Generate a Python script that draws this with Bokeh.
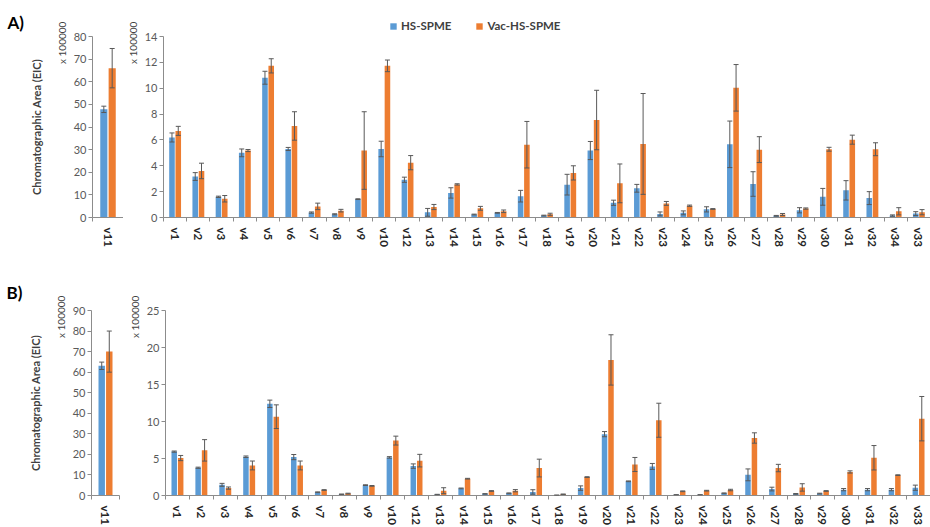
import math
from bokeh.plotting import figure
from bokeh.models import (ColumnDataSource, Range1d, FixedTicker, Whisker, TeeHead,
                          Legend, LegendItem, LinearAxis, Title)
from bokeh.layouts import row, column
from bokeh.embed import file_html
from bokeh.resources import INLINE

# ---------------- data ----------------
A_cats = ["v1", "v2", "v3", "v4", "v5", "v6", "v7", "v8", "v9", "v10", "v12", "v13", "v14", "v15",
          "v16", "v17", "v18", "v19", "v20", "v21", "v22", "v23", "v24", "v25", "v26", "v27", "v28",
          "v29", "v30", "v31", "v32", "v34", "v33"]
A_hs = [6.19, 3.17, 1.6, 5.0, 10.81, 5.3, 0.38, 0.25, 1.42, 5.3, 2.92, 0.4, 1.9, 0.23, 0.36, 1.65,
        0.15, 2.54, 5.18, 1.14, 2.26, 0.28, 0.36, 0.63, 5.66, 2.59, 0.13, 0.56, 1.6, 2.1, 1.5, 0.15, 0.3]
A_hs_sd = [0.35, 0.3, 0.05, 0.3, 0.5, 0.12, 0.05, 0.04, 0.03, 0.6, 0.2, 0.3, 0.4, 0.03, 0.03, 0.45,
           0.03, 0.8, 0.7, 0.2, 0.3, 0.15, 0.15, 0.2, 1.8, 0.95, 0.03, 0.2, 0.65, 0.75, 0.5, 0.05, 0.15]
A_vac = [6.7, 3.6, 1.45, 5.18, 11.73, 7.08, 0.86, 0.53, 5.18, 11.73, 4.24, 0.81, 2.56, 0.71, 0.48,
         5.63, 0.25, 3.45, 7.54, 2.64, 5.69, 1.09, 0.91, 0.66, 10.03, 5.25, 0.23, 0.69, 5.28, 6.02,
         5.28, 0.48, 0.41]
A_vac_sd = [0.35, 0.6, 0.25, 0.08, 0.55, 1.1, 0.25, 0.1, 3.0, 0.45, 0.55, 0.2, 0.05, 0.15, 0.1, 1.8,
            0.08, 0.55, 2.3, 1.5, 3.9, 0.15, 0.05, 0.03, 1.8, 1.0, 0.08, 0.05, 0.15, 0.35, 0.5, 0.28, 0.2]

B_cats = ["v1", "v2", "v3", "v4", "v5", "v6", "v7", "v8", "v9", "v10", "v12", "v13", "v14", "v15",
          "v16", "v17", "v18", "v19", "v20", "v21", "v22", "v23", "v24", "v25", "v26", "v27", "v28",
          "v29", "v30", "v31", "v32", "v33"]
B_hs = [5.93, 3.75, 1.44, 5.24, 12.39, 5.19, 0.44, 0.17, 1.4, 5.15, 3.97, 0.13, 0.96, 0.22, 0.3, 0.48,
        0.04, 1.0, 8.29, 1.92, 3.93, 0.09, 0.09, 0.3, 2.79, 0.87, 0.22, 0.26, 0.79, 0.79, 0.79, 1.05]
B_hs_sd = [0.08, 0.08, 0.2, 0.1, 0.5, 0.35, 0.05, 0.03, 0.05, 0.1, 0.3, 0.03, 0.05, 0.03, 0.05, 0.3,
           0.02, 0.3, 0.35, 0.05, 0.4, 0.02, 0.02, 0.05, 0.8, 0.25, 0.05, 0.05, 0.15, 0.15, 0.15, 0.35]
B_vac = [5.06, 6.1, 1.0, 4.06, 10.65, 4.06, 0.74, 0.26, 1.3, 7.42, 4.71, 0.65, 2.27, 0.61, 0.65, 3.71,
         0.17, 2.49, 18.32, 4.19, 10.17, 0.57, 0.65, 0.74, 7.77, 3.71, 1.09, 0.61, 3.18, 5.1, 2.75, 10.38]
B_vac_sd = [0.35, 1.45, 0.15, 0.6, 1.6, 0.6, 0.05, 0.05, 0.05, 0.6, 0.85, 0.4, 0.05, 0.05, 0.15, 1.2,
            0.03, 0.05, 3.4, 0.95, 2.3, 0.05, 0.05, 0.1, 0.7, 0.5, 0.5, 0.05, 0.15, 1.65, 0.05, 3.0]

S_cats = ["v11"]
A_s_hs = [47.8]
A_s_hs_sd = [1.4]
A_s_vac = [66.0]
A_s_vac_sd = [8.7]
B_s_hs = [63.1]
B_s_hs_sd = [1.8]
B_s_vac = [70.0]
B_s_vac_sd = [10.0]

A_yticks = [0, 2, 4, 6, 8, 10, 12, 14]
A_s_yticks = [0, 10, 20, 30, 40, 50, 60, 70, 80]
B_yticks = [0, 5, 10, 15, 20, 25]
B_s_yticks = [0, 10, 20, 30, 40, 50, 60, 70, 80, 90]

series_names = ["HS-SPME", "Vac-HS-SPME"]
y_title = "Chromatographic Area (EIC)"
mult_text = "x 100000"
BLUE = "#5B9BD5"
ORANGE = "#ED7D31"
FONT = "Lato"
AXIS_C = "#8c8c8c"
ERR_C = "#595959"
PAD = "\u2003\u00a0\u00a0"   # trailing spacing so the multiplier text starts at the axis top


def make_sources(n, hs, hs_sd, vac, vac_sd):
    idx = list(range(n))
    off = 0.135
    src_h = ColumnDataSource(dict(x=[i - off for i in idx], top=hs,
                                  up=[a + b for a, b in zip(hs, hs_sd)],
                                  lo=[a - b for a, b in zip(hs, hs_sd)]))
    src_v = ColumnDataSource(dict(x=[i + off for i in idx], top=vac,
                                  up=[a + b for a, b in zip(vac, vac_sd)],
                                  lo=[a - b for a, b in zip(vac, vac_sd)]))
    return src_h, src_v


def make_panel(cats, hs, hs_sd, vac, vac_sd, yticks, width, height, left, right, top, bottom, bw):
    n = len(cats)
    p = figure(width=width, height=height, x_range=Range1d(-0.5, n - 0.5),
               y_range=Range1d(yticks[0], yticks[-1]), output_backend="svg",
               toolbar_location=None, min_border_left=left, min_border_right=right,
               min_border_top=top, min_border_bottom=bottom)
    p.outline_line_color = None
    p.xgrid.visible = False
    p.ygrid.visible = False
    idx = list(range(n))
    src_h, src_v = make_sources(n, hs, hs_sd, vac, vac_sd)
    p.vbar(x="x", top="top", bottom=0, width=bw, source=src_h, fill_color=BLUE, line_color=None)
    p.vbar(x="x", top="top", bottom=0, width=bw, source=src_v, fill_color=ORANGE, line_color=None)
    for s in (src_h, src_v):
        w = Whisker(base="x", upper="up", lower="lo", source=s, line_color=ERR_C, line_width=1,
                    upper_head=TeeHead(size=5, line_color=ERR_C, line_width=1),
                    lower_head=TeeHead(size=5, line_color=ERR_C, line_width=1),
                    level="overlay")
        p.add_layout(w)
    # y axis
    ya = p.yaxis[0]
    ya.ticker = FixedTicker(ticks=yticks)
    ya.axis_line_color = AXIS_C
    ya.major_tick_line_color = AXIS_C
    ya.major_tick_out = 4
    ya.major_tick_in = 0
    ya.minor_tick_line_color = None
    ya.major_label_text_font = FONT
    ya.major_label_text_font_size = "11px"
    ya.major_label_text_color = "#595959"
    ya.major_label_standoff = 2
    ya.axis_label = mult_text + PAD
    ya.axis_label_text_font = FONT
    ya.axis_label_text_font_size = "10px"
    ya.axis_label_text_font_style = "normal"
    ya.axis_label_text_color = "#404040"
    ya.axis_label_standoff = 3
    ya.axis_label_align = "end"
    # x axis
    xa = p.xaxis[0]
    xa.ticker = FixedTicker(ticks=idx, minor_ticks=[i - 0.5 for i in range(n + 1)])
    xa.major_label_overrides = {i: c for i, c in enumerate(cats)}
    xa.major_tick_line_color = None
    xa.major_tick_out = 0
    xa.major_tick_in = 0
    xa.minor_tick_line_color = AXIS_C
    xa.minor_tick_out = 4
    xa.minor_tick_in = 0
    xa.axis_line_color = AXIS_C
    xa.major_label_orientation = "vertical"
    xa.major_label_text_font = FONT
    xa.major_label_text_font_style = "bold"
    xa.major_label_text_font_size = "11.5px"
    xa.major_label_text_color = "#262626"
    xa.major_label_standoff = 6
    return p


def add_side_axis(p, label_standoff):
    ax = LinearAxis(ticker=FixedTicker(ticks=[]), axis_line_color=None,
                    major_tick_line_color=None, minor_tick_line_color=None,
                    major_tick_out=0, major_label_text_font_size="0px",
                    axis_label=y_title, axis_label_text_font=FONT,
                    axis_label_text_font_size="11px", axis_label_text_font_style="bold",
                    axis_label_text_color="#404040", axis_label_standoff=label_standoff)
    p.add_layout(ax, "left")


def add_letter(p, letter, standoff):
    p.add_layout(Title(text=letter, align="left", offset=-85, text_font=FONT,
                       text_font_size="17px", text_font_style="bold", text_color="#000000",
                       standoff=standoff), "above")


# ---------- legend strip (overlaps the top border of row A) ----------
LEG_H = 34
lg = figure(width=930, height=LEG_H, x_range=Range1d(-0.5, len(A_cats) - 0.5),
            y_range=Range1d(1000, 1001), output_backend="svg", toolbar_location=None,
            x_axis_location=None, y_axis_location=None, min_border=0,
            margin=(0, 0, -LEG_H, 0))
lg.outline_line_color = None
lg.background_fill_alpha = 0
lg.border_fill_alpha = 0
lg.xgrid.visible = False
lg.ygrid.visible = False
lsrc_h, lsrc_v = make_sources(len(A_cats), A_hs, A_hs_sd, A_vac, A_vac_sd)
lr1 = lg.vbar(x="x", top="top", bottom=0, width=0.24, source=lsrc_h, fill_color=BLUE, line_color=None)
lr2 = lg.vbar(x="x", top="top", bottom=0, width=0.24, source=lsrc_v, fill_color=ORANGE, line_color=None)
legend = Legend(items=[LegendItem(label=series_names[0], renderers=[lr1]),
                       LegendItem(label=series_names[1], renderers=[lr2])],
                orientation="horizontal", location=(389, 2),
                glyph_width=8, glyph_height=8, label_height=8, label_standoff=4,
                spacing=24, padding=0, margin=0, border_line_color=None,
                background_fill_alpha=0, label_text_font=FONT, label_text_font_size="11.5px",
                label_text_font_style="bold", label_text_color="#404040")
lg.add_layout(legend)

# ---------- Row A ----------
A_S_W, A_H = 123, 255
a_s = make_panel(S_cats, A_s_hs, A_s_hs_sd, A_s_vac, A_s_vac_sd, A_s_yticks,
                 A_S_W, A_H, 92, 0, 36, 38, 0.23)
a_b = make_panel(A_cats, A_hs, A_hs_sd, A_vac, A_vac_sd, A_yticks,
                 930 - A_S_W, A_H, 34, 0, 35, 38, 0.24)
add_side_axis(a_s, 10)
add_letter(a_s, "A)", 7)
for p in (a_s, a_b):
    p.background_fill_alpha = 0
    p.border_fill_alpha = 0

# ---------- Row B ----------
b_s = make_panel(S_cats, B_s_hs, B_s_hs_sd, B_s_vac, B_s_vac_sd, B_s_yticks,
                 125, 272, 91, 6, 55, 27, 0.23)
b_b = make_panel(B_cats, B_hs, B_hs_sd, B_vac, B_vac_sd, B_yticks,
                 805, 272, 37, 0, 55, 27, 0.23)
add_side_axis(b_s, 10)
add_letter(b_s, "B)", 16)

layout = column(lg, row(a_s, a_b), row(b_s, b_b))
open("out.html", "w").write(file_html(layout, INLINE))
